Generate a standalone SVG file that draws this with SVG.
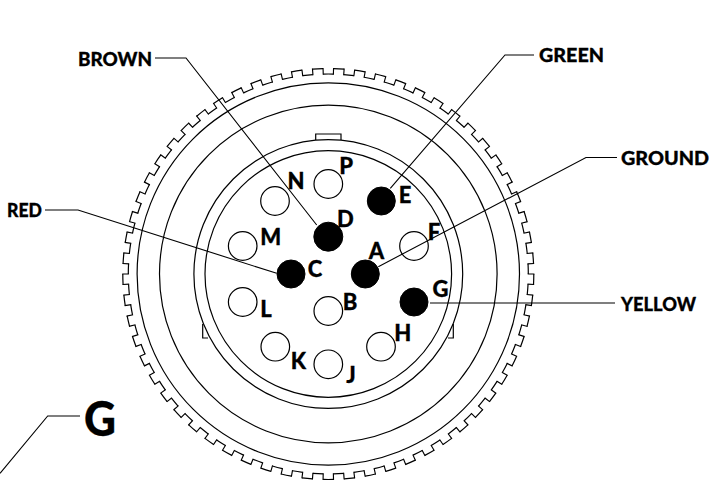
<svg xmlns="http://www.w3.org/2000/svg" width="714" height="480" viewBox="0 0 714 480">
<style>
.r{fill:none;stroke:#000;stroke-width:1.2}
.o{fill:#fff;stroke:#000;stroke-width:1.2}
.f{fill:#000;stroke:#000;stroke-width:1}
.c{fill:none;stroke:#000;stroke-width:1.1}
text{font-family:Lato,"Liberation Sans",sans-serif;font-weight:900;fill:#000;stroke:#000;stroke-width:.3}
.l{font-size:19.5px}
.p{font-size:22px;text-anchor:middle}
</style>
<rect width="714" height="480" fill="#fff"/>
<g id="connector-body">
<circle class="r" cx="328.3" cy="274" r="205.5" pathLength="610" stroke-dasharray="5 5"/>
<circle class="r" cx="328.3" cy="274" r="200" pathLength="610" stroke-dasharray="5 5" stroke-dashoffset="5"/>
<circle cx="328.3" cy="274" r="202.75" fill="none" stroke="#000" stroke-width="6.7" pathLength="610" stroke-dasharray="0.55 4.45" stroke-dashoffset="0.27"/>
<circle class="r" cx="328.3" cy="274" r="191.2"/>
<circle class="r" cx="328.3" cy="274" r="168.8"/>
<circle class="r" cx="328.3" cy="274" r="134.4"/>
<circle class="r" cx="328.3" cy="274" r="123.3"/>
<path class="r" d="M315.7 140V134H341V140M202.7 324V338H208M453.3 324V338H448"/>
</g>
<g id="pin-P"><circle class="o" cx="328.3" cy="184" r="14.3"/><text class="p" x="346.2" y="174">P</text></g>
<g id="pin-N"><circle class="o" cx="275" cy="201" r="14.3"/><text class="p" x="296" y="189">N</text></g>
<g id="pin-E"><circle class="f" cx="381.3" cy="201" r="14"/><text class="p" x="405" y="203">E</text></g>
<g id="pin-D"><circle class="f" cx="328.3" cy="236.7" r="14.5"/><text class="p" x="345.3" y="227">D</text></g>
<g id="pin-M"><circle class="o" cx="242.7" cy="246" r="14.3"/><text class="p" x="270.7" y="245">M</text></g>
<g id="pin-F"><circle class="o" cx="414" cy="246" r="14.3"/><text class="p" x="434" y="240">F</text></g>
<g id="pin-C"><circle class="f" cx="291" cy="274" r="14"/><text class="p" x="315" y="276.5">C</text></g>
<g id="pin-A"><circle class="f" cx="365.3" cy="274" r="14"/><text class="p" x="376.5" y="259">A</text></g>
<g id="pin-L"><circle class="o" cx="242.7" cy="302" r="14.3"/><text class="p" x="266" y="317">L</text></g>
<g id="pin-G"><circle class="f" cx="414" cy="302" r="14"/><text class="p" x="440.5" y="297">G</text></g>
<g id="pin-B"><circle class="o" cx="328.3" cy="311" r="14.3"/><text class="p" x="350" y="310">B</text></g>
<g id="pin-K"><circle class="o" cx="275.3" cy="346.7" r="14.3"/><text class="p" x="298.3" y="369">K</text></g>
<g id="pin-H"><circle class="o" cx="381" cy="346.7" r="14.3"/><text class="p" x="402.7" y="341">H</text></g>
<g id="pin-J"><circle class="o" cx="328.3" cy="364.3" r="14.3"/><text class="p" x="351" y="383">J</text></g>
<g id="connectors">
<path class="c" d="M155 58H186L316.7 225"/>
<path class="c" d="M45 210H78L276.7 273.3"/>
<path class="c" d="M534 55H505L390.3 188.3"/>
<path class="c" d="M617 157.5H586L378.3 266.7"/>
<path class="c" d="M430 303H615"/>
<path class="c" d="M80 416H47.7L0 473.3"/>
</g>
<g id="label-BROWN"><text class="l" x="78" y="66" textLength="74" lengthAdjust="spacingAndGlyphs">BROWN</text></g>
<g id="label-RED"><text class="l" x="7" y="217" textLength="35" lengthAdjust="spacingAndGlyphs">RED</text></g>
<g id="label-GREEN"><text class="l" x="539" y="62" textLength="65" lengthAdjust="spacingAndGlyphs">GREEN</text></g>
<g id="label-GROUND"><text class="l" x="621" y="165" textLength="88" lengthAdjust="spacingAndGlyphs">GROUND</text></g>
<g id="label-YELLOW"><text class="l" x="621" y="310.5" textLength="75" lengthAdjust="spacingAndGlyphs">YELLOW</text></g>
<g id="label-G"><text x="84" y="436" font-size="48" textLength="32" lengthAdjust="spacingAndGlyphs">G</text></g>
</svg>
